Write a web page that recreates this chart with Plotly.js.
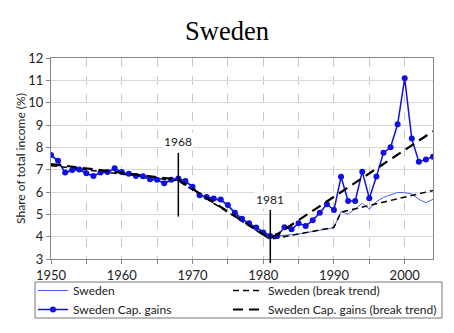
<!DOCTYPE html>
<html>
<head>
<meta charset="utf-8">
<script src="https://cdn.plot.ly/plotly-3.0.1.min.js"></script>
<style>html,body{margin:0;padding:0;background:#fff;}#chart{width:454px;height:333px;}</style>
</head>
<body>
<div id="chart"></div>
<script>
var years = [1950,1951,1952,1953,1954,1955,1956,1957,1958,1959,
             1960,1961,1962,1963,1964,1965,1966,1967,1968,1969,
             1970,1971,1972,1973,1974,1975,1976,1977,1978,1979,
             1980,1981,1982,1983,1984,1985,1986,1987,1988,1989,
             1990,1991,1992,1993,1994,1995,1996,1997,1998,1999,
             2000,2001,2002,2003,2004];
var capGains = [7.66,7.40,6.87,6.98,7.01,6.84,6.72,6.87,6.89,7.06,
                6.89,6.82,6.72,6.70,6.57,6.55,6.39,6.55,6.61,6.49,
                6.24,5.86,5.78,5.71,5.66,5.42,5.07,4.80,4.60,4.41,
                4.19,4.03,4.04,4.42,4.33,4.60,4.48,4.73,5.07,5.45,
                5.19,6.68,5.60,5.60,6.91,5.72,6.69,7.76,8.00,9.03,
                11.09,8.39,7.35,7.46,7.58];
var sweden = [7.62,7.36,6.84,6.95,6.98,6.81,6.70,6.85,6.86,7.02,
              6.86,6.79,6.70,6.67,6.54,6.52,6.37,6.52,6.58,6.46,
              6.20,5.82,5.74,5.66,5.60,5.37,5.02,4.76,4.56,4.38,
              4.16,4.00,4.02,4.06,4.09,4.12,4.18,4.25,4.30,4.37,
              4.40,5.12,5.01,5.24,5.49,5.24,5.57,5.76,5.86,5.98,
              5.97,5.91,5.67,5.52,5.67];
var swedenTrendYears = [1950,1968,1981,1990,1991,2004];
var swedenTrend = [7.18,6.50,3.88,4.42,5.10,6.07];
var capTrendYears = [1950,1968,1981,2004];
var capTrend = [7.25,6.55,3.90,8.72];
var breakYears = [1968,1981];
var breakLabels = ['1968','1981'];
var tickYears = [1950,1955,1960,1965,1970,1975,1980,1985,1990,1995,2000];
var tickLabels = ['1950','','1960','','1970','','1980','','1990','','2000'];

var font = 'Lato, "Open Sans", sans-serif';
var traces = [
  {x: years, y: sweden, name: 'Sweden', type: 'scatter', mode: 'lines',
   line: {color: '#5060f0', width: 1}, legend: 'legend'},
  {x: swedenTrendYears, y: swedenTrend, name: 'Sweden (break trend)', type: 'scatter', mode: 'lines',
   line: {color: '#000', width: 1.5, dash: '6px,4px'}, legend: 'legend2'},
  {x: years, y: capGains, name: 'Sweden Cap. gains', type: 'scatter', mode: 'lines+markers',
   line: {color: '#1010e0', width: 1.5}, marker: {color: '#1010e0', size: 6}, legend: 'legend'},
  {x: capTrendYears, y: capTrend, name: 'Sweden Cap. gains (break trend)', type: 'scatter', mode: 'lines',
   line: {color: '#000', width: 2.2, dash: '10px,6px'}, legend: 'legend2'}
];

function legendAt(px) {
  return {orientation: 'v', xref: 'paper', yref: 'paper',
          x: (px - 51) / 382, xanchor: 'left', y: (259 - 276) / 201, yanchor: 'top',
          borderwidth: 0, bgcolor: 'rgba(0,0,0,0)',
          font: {family: font, size: 12, color: '#222'}, itemwidth: 30, tracegroupgap: 0};
}

var layout = {
  width: 454, height: 333,
  margin: {l: 51, r: 21, t: 58, b: 74, autoexpand: false},
  paper_bgcolor: '#fff', plot_bgcolor: '#fff',
  font: {family: font, size: 12, color: '#222'},
  title: {text: 'Sweden', font: {family: '"Liberation Serif", "Times New Roman", serif', size: 26.5, color: '#000'},
          x: 0.5, xanchor: 'center', y: 1 - 31/333, yanchor: 'middle'},
  showlegend: true,
  legend: legendAt(33),
  legend2: legendAt(228),
  xaxis: {range: [1950, 2004], tickmode: 'array', tickvals: tickYears, ticktext: tickLabels,
          showgrid: true, gridcolor: '#c8c8c8', griddash: 'dash', gridwidth: 1,
          ticks: 'outside', ticklen: 4, tickcolor: '#868686',
          showline: true, linecolor: '#868686', linewidth: 1, mirror: true,
          zeroline: false, tickfont: {family: font, size: 13, color: '#222'}},
  yaxis: {range: [3, 12], dtick: 1, tick0: 3,
          showgrid: true, gridcolor: '#d9d9d9', gridwidth: 1,
          ticks: 'outside', ticklen: 4, tickcolor: '#868686',
          showline: true, linecolor: '#868686', linewidth: 1, mirror: true,
          zeroline: false, tickfont: {family: font, size: 13, color: '#222'},
          title: {text: 'Share of total income (%)', font: {family: font, size: 12, color: '#222'}, standoff: 0}},
  shapes: [
    {type: 'line', xref: 'x', yref: 'y', x0: breakYears[0], x1: breakYears[0], y0: 4.9, y1: 7.75,
     line: {color: '#000', width: 1.5}},
    {type: 'line', xref: 'x', yref: 'paper', x0: breakYears[1], x1: breakYears[1], y0: -0.02, y1: (5.2-3)/9,
     line: {color: '#000', width: 1.5}},
    {type: 'rect', xref: 'paper', yref: 'paper', x0: (35-51)/382, x1: (442-51)/382,
     y0: (259-282)/201, y1: (259-318)/201, line: {color: '#777', width: 1}, fillcolor: 'rgba(0,0,0,0)'}
  ],
  annotations: [
    {x: breakYears[0], y: 8.25, xref: 'x', yref: 'y', text: breakLabels[0], showarrow: false,
     font: {family: font, size: 12, color: '#222'}, bgcolor: '#fff'},
    {x: breakYears[1], y: 5.67, xref: 'x', yref: 'y', text: breakLabels[1], showarrow: false,
     font: {family: font, size: 12, color: '#222'}, bgcolor: '#fff'}
  ]
};

Plotly.newPlot('chart', traces, layout, {displayModeBar: false, staticPlot: true});
</script>
</body>
</html>
